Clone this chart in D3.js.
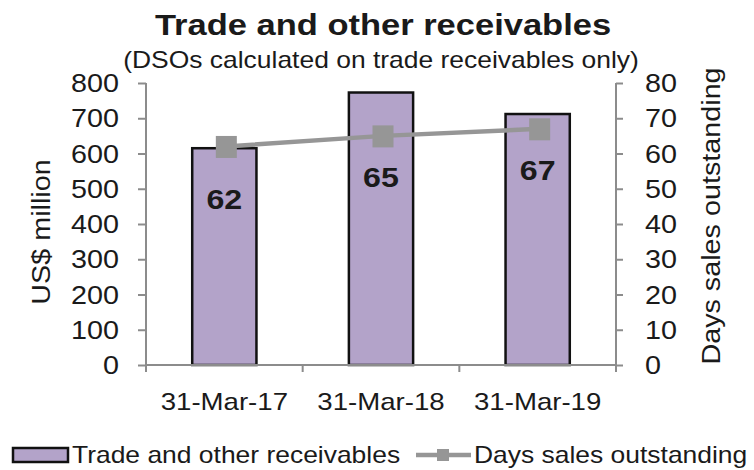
<!DOCTYPE html>
<html>
<head>
<meta charset="utf-8">
<script src="https://cdn.jsdelivr.net/npm/d3@7"></script>
<style>
  html, body { margin: 0; padding: 0; background: #fff; }
  svg { display: block; }
  text { font-family: "Liberation Sans", Arial, Helvetica, sans-serif; fill: #1a1a1a; }
</style>
</head>
<body>
<svg id="chart" width="754" height="470"></svg>
<script>
// Data
const categories = ["31-Mar-17", "31-Mar-18", "31-Mar-19"];
const receivables = [615, 773, 712];      // US$ million
const dso = [62, 65, 67];                 // days
const leftTicks = [0, 100, 200, 300, 400, 500, 600, 700, 800];
const rightTicks = [0, 10, 20, 30, 40, 50, 60, 70, 80];

const titleText = "Trade and other receivables";
const subtitleText = "(DSOs calculated on trade receivables only)";
const leftLabel = "US$ million";
const rightLabel = "Days sales outstanding";
const legendBar = "Trade and other receivables";
const legendLine = "Days sales outstanding";

// Layout & style
const W = 754, H = 470;
const plot = { left: 146, right: 616, top: 83, bottom: 365 };
const SX = 1.15;                 // horizontal glyph widening
const axisColor = "#8c8c8c";
const barFill = "#b3a3c9";
const lineColor = "#969696";
const labelOffset = 51;          // value label baseline below marker centre
const labelNudge = [12, 0, 0];   // extra vertical shift per value label

const svg = d3.select("#chart");

// Text helper: positioned text with widened glyphs, optional rotation
function addText(x, y, str, o = {}) {
  const t = svg.append("text")
    .attr("transform", `translate(${x},${y})` + (o.rotate ? ` rotate(${o.rotate})` : "") + ` scale(${SX},1)`)
    .attr("text-anchor", o.anchor || "middle")
    .style("font-size", (o.size || 24) + "px")
    .style("font-weight", o.weight || "normal")
    .text(str);
  if (o.dy) t.attr("dy", o.dy);
  return t;
}

// Scales
const x = d3.scaleBand().domain(categories).range([plot.left, plot.right]).paddingInner(0).paddingOuter(0);
const yL = d3.scaleLinear().domain([0, 800]).range([plot.bottom, plot.top]);
const yR = d3.scaleLinear().domain([0, 80]).range([plot.bottom, plot.top]);
const barW = x.bandwidth() * 0.41;

// Bars
svg.append("g").selectAll("rect")
  .data(receivables)
  .join("rect")
  .attr("x", (d, i) => x(categories[i]) + x.bandwidth() / 2 - barW / 2)
  .attr("y", d => yL(d))
  .attr("width", barW)
  .attr("height", d => yL(0) - yL(d))
  .attr("fill", barFill)
  .attr("stroke", "#111")
  .attr("stroke-width", 2.5);

// Left axis
const gL = svg.append("g").attr("transform", `translate(${plot.left},0)`)
  .call(d3.axisLeft(yL).tickValues(leftTicks).tickSize(8).tickSizeOuter(0));
gL.select(".domain").attr("stroke", axisColor).attr("stroke-width", 2)
  .attr("d", `M0,${plot.top}V${plot.bottom + 7}`);
gL.selectAll(".tick line").attr("stroke", axisColor).attr("stroke-width", 2);
gL.selectAll(".tick text")
  .attr("x", -27 / SX).attr("dy", "0.34em")
  .attr("transform", `scale(${SX},1)`)
  .style("font-size", "25px").style("font-family", null).attr("fill", "#1a1a1a");

// Right axis
const gR = svg.append("g").attr("transform", `translate(${plot.right},0)`)
  .call(d3.axisRight(yR).tickValues(rightTicks).tickSize(7).tickSizeOuter(0));
gR.select(".domain").attr("stroke", axisColor).attr("stroke-width", 2)
  .attr("d", `M0,${plot.top}V${plot.bottom + 7}`);
gR.selectAll(".tick line").attr("stroke", axisColor).attr("stroke-width", 2);
gR.selectAll(".tick text")
  .attr("x", 29 / SX).attr("dy", "0.34em")
  .attr("transform", `scale(${SX},1)`)
  .style("font-size", "25px").style("font-family", null).attr("fill", "#1a1a1a");

// Bottom axis: line with ticks at category boundaries
const boundaries = categories.map(c => x(c)).concat([plot.right]);
const gB = svg.append("g");
gB.append("line")
  .attr("x1", plot.left).attr("x2", plot.right)
  .attr("y1", plot.bottom).attr("y2", plot.bottom)
  .attr("stroke", axisColor).attr("stroke-width", 2);
gB.selectAll("line.tk").data(boundaries).join("line").attr("class", "tk")
  .attr("x1", d => d).attr("x2", d => d)
  .attr("y1", plot.bottom).attr("y2", plot.bottom + 7)
  .attr("stroke", axisColor).attr("stroke-width", 2);
categories.forEach(c => addText(x(c) + x.bandwidth() / 2, 410, c, { size: 24 }));

// DSO line with square markers
const cx = i => x(categories[i]) + x.bandwidth() / 2 + 2;
const line = d3.line().x((d, i) => cx(i)).y(d => yR(d));
svg.append("path").datum(dso)
  .attr("d", line).attr("fill", "none")
  .attr("stroke", lineColor).attr("stroke-width", 4.5);
const ms = 21;
svg.append("g").selectAll("rect").data(dso).join("rect")
  .attr("x", (d, i) => cx(i) - ms / 2)
  .attr("y", d => yR(d) - ms / 2)
  .attr("width", ms).attr("height", ms + 1)
  .attr("fill", lineColor);

// DSO value labels below markers
dso.forEach((d, i) => addText(cx(i) - 2, yR(d) + labelOffset + labelNudge[i], String(d), { size: 28, weight: "bold" }));

// Titles
addText(383, 35, titleText, { size: 30, weight: "bold" });
addText(381, 68, subtitleText, { size: 23 });
addText(50, 232, leftLabel, { size: 25, rotate: -90 });
addText(720, 216, rightLabel, { size: 25, rotate: -90 });

// Legend
const lgY = 455;
svg.append("rect").attr("x", 13).attr("y", lgY - 7).attr("width", 55).attr("height", 14)
  .attr("fill", barFill).attr("stroke", "#111").attr("stroke-width", 2.5);
addText(72, lgY + 8, legendBar, { size: 23, anchor: "start" });
svg.append("line").attr("x1", 416).attr("x2", 471).attr("y1", lgY).attr("y2", lgY)
  .attr("stroke", lineColor).attr("stroke-width", 4.5);
svg.append("rect").attr("x", 443 - 6).attr("y", lgY - 6).attr("width", 12).attr("height", 12)
  .attr("fill", lineColor);
addText(474, lgY + 8, legendLine, { size: 23, anchor: "start" });
</script>
</body>
</html>
